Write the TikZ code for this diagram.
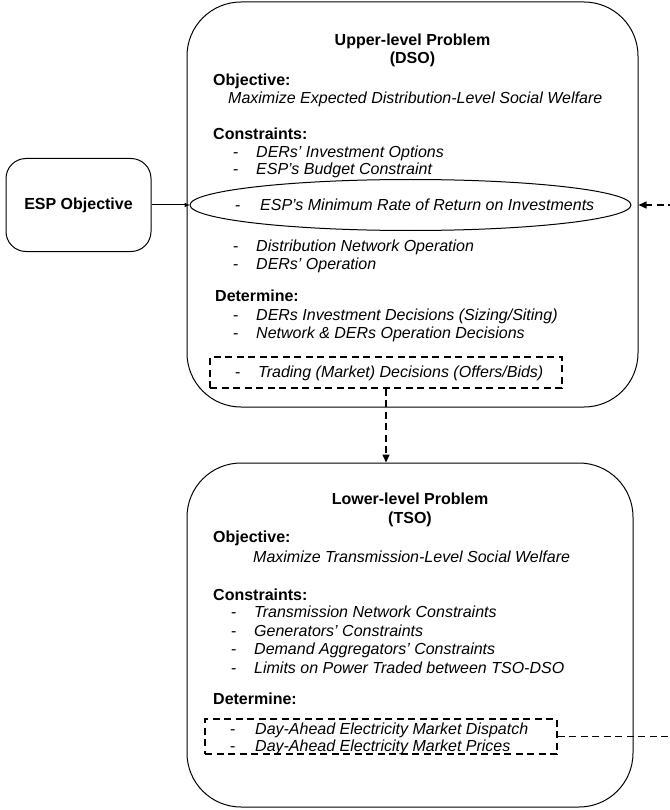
\documentclass[tikz,border=0pt]{standalone}
\usepackage{fontspec}
\setmainfont{Liberation Sans}
\usetikzlibrary{shapes.geometric,arrows.meta}
\tikzset{
  bigbox/.style={draw=black, line width=1pt, rounded corners=54pt, inner sep=0pt},
  espbox/.style={draw=black, line width=1pt, rounded corners=20pt, inner sep=0pt},
  hd/.style={anchor=base west, inner sep=0pt, font=\fontsize{16}{19}\selectfont\bfseries},
  ttl/.style={anchor=base, inner sep=0pt, font=\fontsize{16}{19}\selectfont\bfseries},
  itm/.style={anchor=base west, inner sep=0pt, font=\fontsize{16}{19}\selectfont\itshape},
  dbox/.style={draw=black, line width=1.5pt, dash pattern=on 7pt off 4.5pt, inner sep=0pt},
  dline/.style={draw=black, line width=1.5pt, dash pattern=on 7pt off 4.5pt},
  sarrow/.style={draw=black, line width=1pt, -{Triangle[length=5pt,width=4pt]}},
  darrow/.style={dline, -{Triangle[length=8pt,width=7pt]}},
}
\newcommand{\dsh}[1]{\makebox[23pt][l]{\upshape -}#1}
\begin{document}
\begin{tikzpicture}[x=1pt,y=-1pt]
\useasboundingbox (0,0) rectangle (669,810);

% upper-level problem box
\node[bigbox, minimum width=451pt, minimum height=405pt] (upper) at (412.5,204.5) {};
\node[draw=black, line width=1pt, fill=white, ellipse, minimum width=441pt, minimum height=51pt, inner sep=0pt] (esprr) at (410.5,205) {};
\node[ttl] (t1a) at (412.5,45.5) {Upper-level Problem};
\node[ttl] (t1b) at (412.5,63.5) {(DSO)};
\node[hd] (obj1) at (213,85.5) {Objective:};
\node[itm] (max1) at (228,103.5) {Maximize Expected Distribution-Level Social Welfare};
\node[hd] (con1) at (213,139.5) {Constraints:};
\node[itm] (u1) at (233,157.5) {\dsh{DERs’ Investment Options}};
\node[itm] (u2) at (233,175) {\dsh{ESP’s Budget Constraint}};
\node[itm] (u0) at (235,210.5) {\makebox[25pt][l]{\upshape -}ESP’s Minimum Rate of Return on Investments};
\node[itm] (u3) at (233,251.5) {\dsh{Distribution Network Operation}};
\node[itm] (u4) at (233,269.5) {\dsh{DERs’ Operation}};
\node[hd] (det1) at (215,301.5) {Determine:};
\node[itm] (u5) at (233,320.5) {\dsh{DERs Investment Decisions (Sizing/Siting)}};
\node[itm] (u6) at (233,338.5) {\dsh{Network \& DERs Operation Decisions}};
\node[dbox, minimum width=352pt, minimum height=31pt] (trade) at (386,372.5) {};
\node[itm] (u7) at (235,377.5) {\dsh{Trading (Market) Decisions (Offers/Bids)}};

% ESP objective
\node[espbox, minimum width=145pt, minimum height=93pt, font=\fontsize{16}{19}\selectfont\bfseries] (esp) at (78.5,205) {ESP Objective};

% lower-level problem box
\node[bigbox, minimum width=446pt, minimum height=344pt] (lower) at (410,635) {};
\node[ttl] (t2a) at (410,504.5) {Lower-level Problem};
\node[ttl] (t2b) at (410,523.5) {(TSO)};
\node[hd] (obj2) at (213,542.5) {Objective:};
\node[itm] (max2) at (253,562.5) {Maximize Transmission-Level Social Welfare};
\node[hd] (con2) at (213,600.5) {Constraints:};
\node[itm] (l1) at (231,617.5) {\dsh{Transmission Network Constraints}};
\node[itm] (l2) at (231,636.5) {\dsh{Generators’ Constraints}};
\node[itm] (l3) at (231,654.5) {\dsh{Demand Aggregators’ Constraints}};
\node[itm] (l4) at (231,673.5) {\dsh{Limits on Power Traded between TSO-DSO}};
\node[hd] (det2) at (213,704.5) {Determine:};
\node[dbox, minimum width=352pt, minimum height=35pt] (dam) at (381,736.5) {};
\node[itm] (l5) at (230,734) {\makebox[25pt][l]{\upshape -}Day-Ahead Electricity Market Dispatch};
\node[itm] (l6) at (230,751.5) {\makebox[25pt][l]{\upshape -}Day-Ahead Electricity Market Prices};

% connectors
\draw[sarrow] (esp.east) -- (esprr.west);
\draw[darrow] (trade.south) -- (trade.south |- lower.north);
\coordinate (loop) at (690,736.5);
\draw[darrow] (dam.east) -- (loop) -- (loop |- esprr.east) -- (upper.east |- esprr.east);
\end{tikzpicture}
\end{document}
